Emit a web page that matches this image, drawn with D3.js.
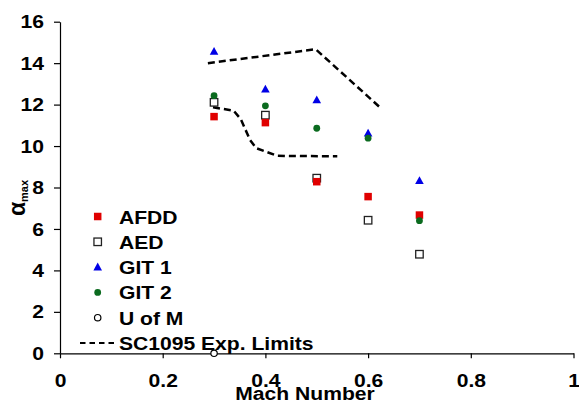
<!DOCTYPE html>
<html><head><meta charset="utf-8">
<script src="https://cdn.jsdelivr.net/npm/d3@7"></script>
<style>body{margin:0;background:#fff}svg text{font-family:"Liberation Sans",Arial,sans-serif;font-weight:bold;fill:#000}</style>
</head><body><svg id="c" width="579" height="402"></svg>
<script>
const xTicks = [0, 0.2, 0.4, 0.6, 0.8, 1];
const xTickLabels = ["0", "0.2", "0.4", "0.6", "0.8", "1"];
const yTicks = [0, 2, 4, 6, 8, 10, 12, 14, 16];
const machAFDD = [0.3, 0.4, 0.5, 0.6, 0.7];
const afdd = [11.42, 11.13, 8.28, 7.56, 6.67];
const machAED = [0.3, 0.4, 0.5, 0.6, 0.7];
const aed = [12.11, 11.49, 8.45, 6.42, 4.78];
const machGIT1 = [0.3, 0.4, 0.5, 0.6, 0.7];
const git1 = [14.56, 12.74, 12.22, 10.62, 8.33];
const machGIT2 = [0.3, 0.4, 0.5, 0.6, 0.7];
const git2 = [12.43, 11.94, 10.86, 10.38, 6.40];
const machUM = [0.3];
const um = [0];
const upperMach = [0.288, 0.498, 0.623];
const upperLim = [14.0, 14.67, 11.87];
const lowerMach = [0.298, 0.338, 0.352, 0.37, 0.382, 0.422, 0.44, 0.54];
const lowerLim = [11.87, 11.71, 11.3, 10.3, 9.9, 9.54, 9.52, 9.51];
const legendLabels = ["AFDD", "AED", "GIT 1", "GIT 2", "U of M", "SC1095 Exp. Limits"];

const svg = d3.select("#c");
const x = d3.scaleLinear().domain([0, 1]).range([60, 573.5]);
const y = d3.scaleLinear().domain([0, 16]).range([353.3, 21.7]);
const FS = 19, SX = 1.11;

// axes
const gx = svg.append("g").attr("transform", `translate(0,${y(0)})`)
  .call(d3.axisBottom(x).tickValues(xTicks).tickFormat((d, i) => xTickLabels[i]).tickSize(5).tickPadding(15).tickSizeOuter(0));
const gy = svg.append("g").attr("transform", `translate(${x(0)},0)`)
  .call(d3.axisLeft(y).tickValues(yTicks).tickFormat(d3.format("d")).tickSize(6).tickPadding(9).tickSizeOuter(0));
[gx, gy].forEach(g => {
  g.select(".domain").attr("stroke", "#000").attr("stroke-width", 1.2);
  g.selectAll(".tick line").attr("stroke", "#000").attr("stroke-width", 1.2);
  g.selectAll("text").attr("font-size", FS).attr("font-family", "Liberation Sans, Arial, sans-serif").attr("font-weight", "bold").attr("fill", "#000")
    .attr("transform", `scale(${SX},1)`);
});
gy.selectAll("text").attr("x", -16 / SX);

// axis titles
svg.append("text").attr("transform", `translate(305,400) scale(${SX},1)`).attr("text-anchor", "middle").attr("font-size", FS).text("Mach Number");
const yl = svg.append("text").attr("transform", "translate(25,198) rotate(-90)").attr("text-anchor", "middle");
yl.append("tspan").attr("font-size", 23).text("α");
yl.append("tspan").attr("font-size", 11).attr("dy", 3).text("max");

// limit lines
const line = d3.line().x(d => x(d[0])).y(d => y(d[1])).curve(d3.curveLinear);
const dashStyle = s => s.attr("fill", "none").attr("stroke", "#000").attr("stroke-width", 2.5).attr("stroke-dasharray", "7,4");
svg.append("path").datum(upperMach.map((m, i) => [m, upperLim[i]])).attr("d", line).call(dashStyle);
svg.append("path").datum(lowerMach.map((m, i) => [m, lowerLim[i]])).attr("d", line).call(dashStyle);

// markers
const sq = 7.5;
function drawSquare(g, cx, cy, fill, stroke) {
  g.append("rect").attr("x", cx - sq / 2).attr("y", cy - sq / 2).attr("width", sq).attr("height", sq)
    .attr("fill", fill).attr("stroke", stroke).attr("stroke-width", stroke === "none" ? 0 : 1.3);
}
function drawTri(g, cx, cy) {
  g.append("path").attr("d", `M${cx},${cy - 4.5}L${cx + 4.3},${cy + 3.3}L${cx - 4.3},${cy + 3.3}Z`).attr("fill", "#0000e6");
}
function drawDot(g, cx, cy) { g.append("circle").attr("cx", cx).attr("cy", cy).attr("r", 3.4).attr("fill", "#0b6b1f"); }
function drawOpen(g, cx, cy) { g.append("circle").attr("cx", cx).attr("cy", cy).attr("r", 3.2).attr("fill", "#fff").attr("stroke", "#000").attr("stroke-width", 1.2); }

const gm = svg.append("g");
machGIT1.forEach((m, i) => drawTri(gm, x(m), y(git1[i])));
machAED.forEach((m, i) => drawSquare(gm, x(m), y(aed[i]), "#fff", "#222"));
machAFDD.forEach((m, i) => drawSquare(gm, x(m), y(afdd[i]), "#e00000", "none"));
machGIT2.forEach((m, i) => drawDot(gm, x(m), y(git2[i])));
machUM.forEach((m, i) => drawOpen(gm, x(m), y(um[i])));

// legend
const lg = svg.append("g");
const ly0 = 216.5, ldy = 25.3, lmx = 97.7, ltx = 119;
const drawers = [
  (cx, cy) => drawSquare(lg, cx, cy, "#e00000", "none"),
  (cx, cy) => drawSquare(lg, cx, cy, "#fff", "#222"),
  (cx, cy) => drawTri(lg, cx, cy),
  (cx, cy) => drawDot(lg, cx, cy),
  (cx, cy) => drawOpen(lg, cx, cy),
  (cx, cy) => lg.append("line").attr("x1", 80).attr("x2", 116).attr("y1", cy).attr("y2", cy).attr("stroke", "#000").attr("stroke-width", 2).attr("stroke-dasharray", "5.5,4")
];
legendLabels.forEach((t, i) => {
  const cy = ly0 + i * ldy;
  drawers[i](lmx, cy);
  lg.append("text").attr("transform", `translate(${ltx},${cy + 7}) scale(${SX},1)`).attr("font-size", FS).text(t);
});
</script></body></html>
